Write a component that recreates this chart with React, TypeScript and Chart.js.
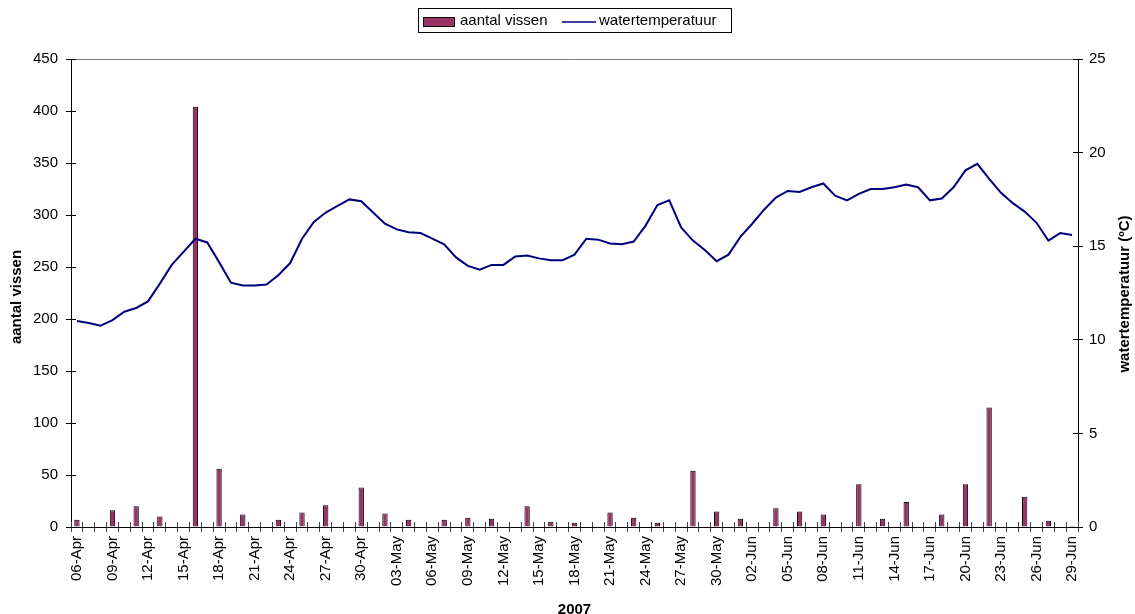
import { useEffect, useRef } from "react";
import { Chart, registerables } from "chart.js";

Chart.register(...registerables);

const categories = [
  "06-Apr", "07-Apr", "08-Apr", "09-Apr", "10-Apr", "11-Apr", "12-Apr", "13-Apr", "14-Apr", "15-Apr",
  "16-Apr", "17-Apr", "18-Apr", "19-Apr", "20-Apr", "21-Apr", "22-Apr", "23-Apr", "24-Apr", "25-Apr",
  "26-Apr", "27-Apr", "28-Apr", "29-Apr", "30-Apr",
  "01-May", "02-May", "03-May", "04-May", "05-May", "06-May", "07-May", "08-May", "09-May", "10-May",
  "11-May", "12-May", "13-May", "14-May", "15-May", "16-May", "17-May", "18-May", "19-May", "20-May",
  "21-May", "22-May", "23-May", "24-May", "25-May", "26-May", "27-May", "28-May", "29-May", "30-May",
  "31-May",
  "01-Jun", "02-Jun", "03-Jun", "04-Jun", "05-Jun", "06-Jun", "07-Jun", "08-Jun", "09-Jun", "10-Jun",
  "11-Jun", "12-Jun", "13-Jun", "14-Jun", "15-Jun", "16-Jun", "17-Jun", "18-Jun", "19-Jun", "20-Jun",
  "21-Jun", "22-Jun", "23-Jun", "24-Jun", "25-Jun", "26-Jun", "27-Jun", "28-Jun", "29-Jun",
];

const fishCounts = [
  7, 0, 0, 16, 0, 20, 0, 10, 0, 0,
  404, 0, 56, 0, 12, 0, 0, 7, 0, 14,
  0, 21, 0, 0, 38,
  0, 13, 0, 7, 0, 0, 7, 0, 9, 0,
  8, 0, 0, 20, 0, 5, 0, 4, 0, 0,
  14, 0, 9, 0, 4, 0, 0, 54, 0, 15,
  0,
  8, 0, 0, 18, 0, 15, 0, 12, 0, 0,
  41, 0, 8, 0, 24, 0, 0, 12, 0, 41,
  0, 115, 0, 0, 29, 0, 6, 0, 1,
];

const waterTemp = [
  11.0, 10.9, 10.75, 11.05, 11.5, 11.7, 12.05, 13.0, 14.0, 14.7,
  15.4, 15.2, 14.15, 13.05, 12.9, 12.9, 12.95, 13.45, 14.1, 15.4,
  16.3, 16.8, 17.15, 17.5, 17.4,
  16.8, 16.2, 15.9, 15.75, 15.7, 15.4, 15.1, 14.4, 13.95, 13.75,
  14.0, 14.0, 14.45, 14.5, 14.35, 14.25, 14.25, 14.55, 15.4, 15.35,
  15.15, 15.1, 15.25, 16.1, 17.2, 17.45, 16.0, 15.3, 14.8, 14.2,
  14.55,
  15.5, 16.2, 16.95, 17.6, 17.95, 17.9, 18.15, 18.35, 17.7, 17.45,
  17.8, 18.05, 18.05, 18.15, 18.3, 18.15, 17.45, 17.55, 18.15, 19.05,
  19.4, 18.6, 17.85, 17.3, 16.85, 16.25, 15.3, 15.7, 15.6,
];

const fishLabel = "aantal vissen";
const tempLabel = "watertemperatuur";
const leftTitle = "aantal vissen";
const rightTitle = "watertemperatuur (ºC)";
const xTitle = "2007";

const FONT = "'Liberation Sans', Arial, sans-serif";
const BAR_COLOR = "#993366";
const LINE_COLOR = "#000080";

const align = (p: number) => Math.round(p - 0.5) + 0.5;

const decorPlugin = {
  id: "decor",
  beforeDatasetsDraw(chart: any) {
    const { ctx, chartArea } = chart;
    ctx.save();
    ctx.strokeStyle = "#808080";
    ctx.lineWidth = 1;
    ctx.beginPath();
    ctx.moveTo(chartArea.left, align(chartArea.top));
    ctx.lineTo(chartArea.right, align(chartArea.top));
    ctx.stroke();
    ctx.restore();
  },
  afterDraw(chart: any) {
    const { ctx, chartArea } = chart;
    const { left, right, top, bottom } = chartArea;
    ctx.save();
    // inner halves of the crossing tick marks
    ctx.lineWidth = 1;
    ctx.strokeStyle = "#000";
    const y = chart.scales.y;
    y.ticks.forEach((_t: any, i: number) => {
      const p = align(y.getPixelForTick(i));
      ctx.beginPath();
      ctx.moveTo(left, p);
      ctx.lineTo(left + 5, p);
      ctx.stroke();
    });
    const y1 = chart.scales.y1;
    y1.ticks.forEach((_t: any, i: number) => {
      const p = align(y1.getPixelForTick(i));
      ctx.beginPath();
      ctx.moveTo(right - 5, p);
      ctx.lineTo(right, p);
      ctx.stroke();
    });
    ctx.strokeStyle = "#444";
    const n = chart.data.labels.length;
    for (let i = 0; i <= n; i++) {
      const p = align(left + (i * (right - left)) / n);
      ctx.beginPath();
      ctx.moveTo(p, bottom - 5);
      ctx.lineTo(p, bottom);
      ctx.stroke();
    }

    // axis titles
    ctx.fillStyle = "#000";
    ctx.font = `bold 15px ${FONT}`;
    ctx.textAlign = "center";
    ctx.textBaseline = "middle";
    ctx.save();
    ctx.translate(16.5, (top + bottom) / 2 + 4);
    ctx.rotate(-Math.PI / 2);
    ctx.fillText(leftTitle, 0, 0);
    ctx.restore();
    ctx.save();
    ctx.translate(1125, (top + bottom) / 2 + 1);
    ctx.rotate(-Math.PI / 2);
    ctx.fillText(rightTitle, 0, 0);
    ctx.restore();
    ctx.textBaseline = "alphabetic";
    ctx.fillText(xTitle, (left + right) / 2, 614);

    // legend
    const ds = chart.data.datasets;
    const barDs = ds.find((d: any) => d.type === "bar");
    const lineDs = ds.find((d: any) => d.type === "line");
    ctx.strokeStyle = "#000";
    ctx.lineWidth = 1;
    ctx.strokeRect(418.5, 8.5, 313, 24);
    ctx.fillStyle = barDs.backgroundColor;
    ctx.fillRect(423, 17, 32, 10);
    ctx.strokeRect(423.5, 17.5, 31, 9);
    ctx.fillStyle = "#000";
    ctx.font = `15px ${FONT}`;
    ctx.textAlign = "left";
    ctx.textBaseline = "middle";
    ctx.fillText(barDs.label, 460, 21);
    ctx.strokeStyle = lineDs.borderColor;
    ctx.lineWidth = 1.5;
    ctx.beginPath();
    ctx.moveTo(562, 22);
    ctx.lineTo(596, 22);
    ctx.stroke();
    ctx.fillText(lineDs.label, 599, 21);
    ctx.restore();
  },
};

export default function App() {
  const canvasRef = useRef<HTMLCanvasElement | null>(null);

  useEffect(() => {
    if (!canvasRef.current) return;
    const chart = new Chart(canvasRef.current, {
      type: "bar",
      data: {
        labels: categories,
        datasets: [
          {
            type: "bar",
            label: fishLabel,
            data: fishCounts,
            yAxisID: "y",
            backgroundColor: BAR_COLOR,
            borderColor: "#000",
            borderWidth: 1,
            borderSkipped: "start",
            categoryPercentage: 1,
            barPercentage: 0.45,
            order: 1,
          } as any,
          {
            type: "line",
            label: tempLabel,
            data: waterTemp,
            yAxisID: "y1",
            borderColor: LINE_COLOR,
            backgroundColor: LINE_COLOR,
            borderWidth: 2,
            pointRadius: 0,
            tension: 0,
            order: 0,
          } as any,
        ],
      },
      options: {
        responsive: false,
        animation: false,
        layout: { padding: { top: 59, left: 0, right: 0, bottom: 0 } },
        plugins: {
          legend: { display: false },
          tooltip: { enabled: false },
        },
        scales: {
          x: {
            type: "category",
            offset: true,
            grid: {
              display: true,
              drawOnChartArea: false,
              drawTicks: true,
              tickLength: 5,
              color: "#444",
              offset: true,
            },
            border: { display: true, color: "#000", width: 1 },
            ticks: {
              autoSkip: false,
              maxRotation: 90,
              minRotation: 90,
              padding: 4,
              color: "#000",
              font: { family: FONT, size: 15 },
              callback: (_v: any, i: number) => (i % 3 === 0 ? categories[i] : ""),
            },
            afterFit: (s: any) => {
              s.height = 87;
            },
          },
          y: {
            position: "left",
            min: 0,
            max: 450,
            grid: { drawOnChartArea: false, tickLength: 5, color: "#000" },
            border: { display: true, color: "#000", width: 1 },
            ticks: {
              stepSize: 50,
              padding: 8,
              color: "#000",
              font: { family: FONT, size: 15 },
            },
            afterFit: (s: any) => {
              s.width = 71;
            },
          },
          y1: {
            position: "right",
            min: 0,
            max: 25,
            grid: { drawOnChartArea: false, tickLength: 5, color: "#000" },
            border: { display: true, color: "#000", width: 1 },
            ticks: {
              stepSize: 5,
              padding: 6,
              color: "#000",
              font: { family: FONT, size: 15 },
            },
            afterFit: (s: any) => {
              s.width = 57;
            },
          },
        },
      },
      plugins: [decorPlugin],
    });
    return () => chart.destroy();
  }, []);

  return (
    <div style={{ position: "fixed", left: 0, top: 0, width: 1135, height: 614, background: "#fff" }}>
      <canvas ref={canvasRef} width={1135} height={614} style={{ display: "block" }} />
    </div>
  );
}
